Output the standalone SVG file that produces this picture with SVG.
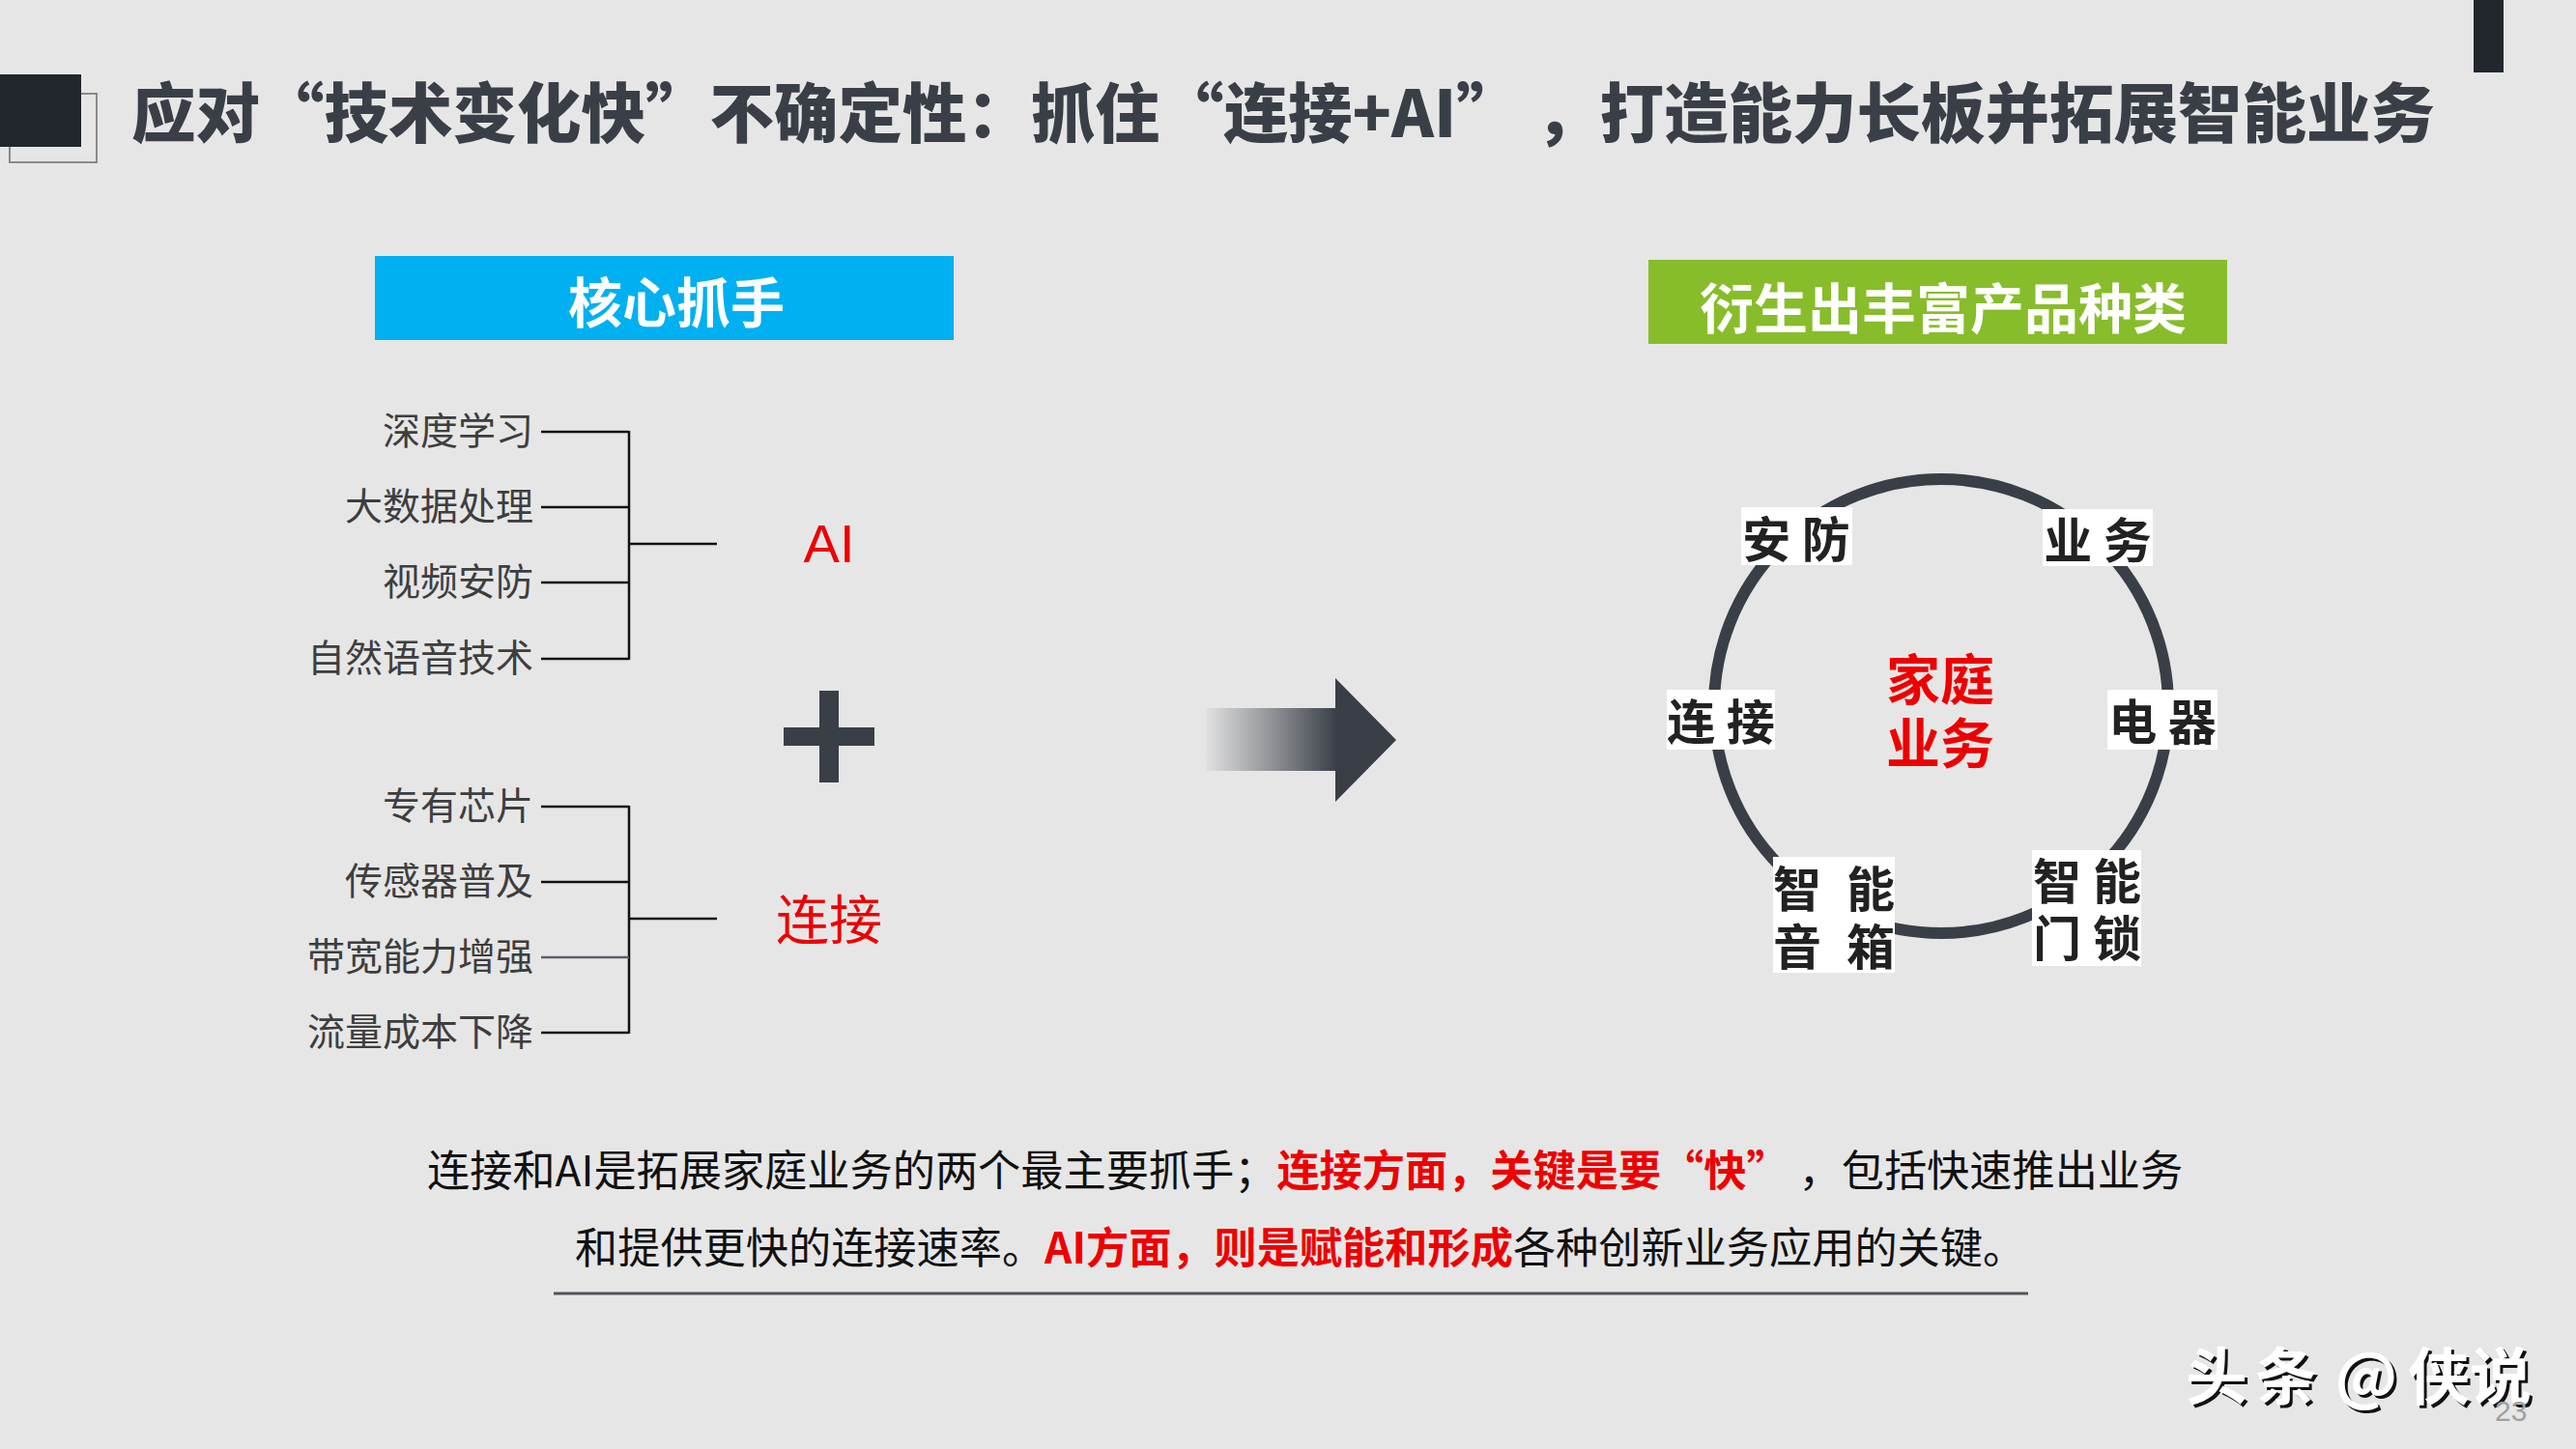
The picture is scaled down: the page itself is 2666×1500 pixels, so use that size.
<svg xmlns="http://www.w3.org/2000/svg" width="2666" height="1500" viewBox="0 0 2666 1500">
<style>
.cjk{font-family:"Noto Sans CJK SC","Noto Sans",sans-serif}
.title{font-size:66.5px;font-weight:900;fill:#3a3f47}
.head{font-size:56px;font-weight:700;fill:#ffffff}
.item{font-size:39px;font-weight:400;fill:#3e3e3e;text-anchor:end}
.lab{font-size:50px;font-weight:700;fill:#222222;text-anchor:middle}
.box{fill:#ffffff}
.body{font-size:44.2px;font-weight:400;fill:#111111}
.rb{font-weight:700;fill:#ee0000}
.ln{stroke:#111111;stroke-width:2.5;fill:none}
.wm{font-size:64px;font-weight:700;text-anchor:middle}
</style>
<defs>
<linearGradient id="shaft" gradientUnits="userSpaceOnUse" x1="1248" y1="0" x2="1384" y2="0">
<stop offset="0" stop-color="#3a3f47" stop-opacity="0.03"/>
<stop offset="0.5" stop-color="#3a3f47" stop-opacity="0.5"/>
<stop offset="1" stop-color="#3a3f47" stop-opacity="1"/>
</linearGradient>
</defs>
<rect x="0" y="0" width="2666" height="1500" fill="#e6e6e6"/>

<g id="title">
<rect x="10" y="97" width="90" height="71" fill="none" stroke="#8a8a8a" stroke-width="2"/>
<rect x="0" y="77" width="84" height="75" fill="#22272e"/>
<rect x="2560" y="0" width="31" height="75" fill="#22272e"/>
<text class="cjk title" x="136" y="142">应对“技术变化快”不确定性：抓住“连接+AI” ，打造能力长板并拓展智能业务</text>
</g>

<g id="head-left">
<rect x="388" y="265" width="599" height="87" fill="#00b0f0"/>
<text class="cjk head" x="700" y="334" text-anchor="middle">核心抓手</text>
</g>
<g id="head-right">
<rect x="1706" y="269" width="599" height="87" fill="#87bd2a"/>
<text class="cjk head" x="2011" y="340" text-anchor="middle">衍生出丰富产品种类</text>
</g>

<g id="ai-items">
<text class="cjk item" x="552" y="460">深度学习</text>
<text class="cjk item" x="552" y="538">大数据处理</text>
<text class="cjk item" x="552" y="616">视频安防</text>
<text class="cjk item" x="552" y="695">自然语音技术</text>
</g>
<g id="ai-node">
<text x="858" y="582" text-anchor="middle" font-family="Liberation Sans, Arial, sans-serif" font-size="56" fill="#ee0000">AI</text>
</g>
<g id="plus">
<rect x="811" y="753" width="94" height="19" fill="#3a3f47"/>
<rect x="848" y="715" width="20" height="95" fill="#3a3f47"/>
</g>
<g id="conn-items">
<text class="cjk item" x="552" y="848">专有芯片</text>
<text class="cjk item" x="552" y="926">传感器普及</text>
<text class="cjk item" x="552" y="1004">带宽能力增强</text>
<text class="cjk item" x="552" y="1082">流量成本下降</text>
</g>
<g id="conn-node">
<text class="cjk" x="858" y="972" text-anchor="middle" font-size="55" fill="#ee0000">连接</text>
</g>

<g id="connectors">
<path class="ln" d="M560 447H651M560 525H651M560 603H651M560 682H651M651 446V683M651 563H742"/>
<path class="ln" d="M560 835H651M560 913H651M560 1069H651M651 834V1070M651 951H742"/>
<path d="M560 991H651" stroke="#5a5f66" stroke-width="2.5"/>
<rect x="1248" y="733" width="136" height="65" fill="url(#shaft)"/>
<polygon points="1382,702 1445,766 1382,830" fill="#3a3f47"/>
</g>

<g id="ring">
<circle cx="2009" cy="731" r="235" fill="none" stroke="#3a3f47" stroke-width="12"/>
</g>
<g id="center">
<text class="cjk" x="2008" y="724" text-anchor="middle" font-size="56" font-weight="700" fill="#ee0000">家庭</text>
<text class="cjk" x="2008" y="790" text-anchor="middle" font-size="56" font-weight="700" fill="#ee0000">业务</text>
</g>
<g id="n-anfang">
<rect class="box" x="1802" y="525" width="115" height="60"/>
<text class="cjk lab" x="1859" y="577" xml:space="preserve">安 防</text>
</g>
<g id="n-yewu">
<rect class="box" x="2114" y="527" width="114" height="59"/>
<text class="cjk lab" x="2171" y="578" xml:space="preserve">业 务</text>
</g>
<g id="n-lianjie">
<rect class="box" x="1725" y="714" width="112" height="62"/>
<text class="cjk lab" x="1781" y="766" xml:space="preserve">连 接</text>
</g>
<g id="n-dianqi">
<rect class="box" x="2181" y="714" width="114" height="62"/>
<text class="cjk lab" x="2238" y="766" xml:space="preserve">电 器</text>
</g>
<g id="n-yinxiang">
<rect class="box" x="1835" y="887" width="126" height="120"/>
<text class="cjk lab" x="1860" y="939">智</text>
<text class="cjk lab" x="1936" y="939">能</text>
<text class="cjk lab" x="1860" y="999">音</text>
<text class="cjk lab" x="1936" y="999">箱</text>
</g>
<g id="n-mensuo">
<rect class="box" x="2103" y="880" width="113" height="120"/>
<text class="cjk lab" x="2129" y="931">智</text>
<text class="cjk lab" x="2191" y="931">能</text>
<text class="cjk lab" x="2129" y="990">门</text>
<text class="cjk lab" x="2191" y="990">锁</text>
</g>

<g id="summary">
<text class="cjk body" x="442" y="1228">连接和AI是拓展家庭业务的两个最主要抓手；<tspan class="rb">连接方面，关键是要“快”</tspan> ，包括快速推出业务</text>
<text class="cjk body" x="595" y="1308">和提供更快的连接速率。<tspan class="rb">AI方面，则是赋能和形成</tspan>各种创新业务应用的关键。</text>
<line x1="573" y1="1339" x2="2099" y2="1339" stroke="#50555c" stroke-width="3"/>
</g>

<g id="footer">
<g class="cjk wm" fill="#111111" transform="translate(3,3)">
<text x="2294" y="1448">头</text><text x="2366" y="1448">条</text><text x="2449" y="1448">@</text><text x="2524" y="1448">侠</text><text x="2588" y="1448">说</text>
</g>
<g class="cjk wm" fill="#ffffff">
<text x="2294" y="1448">头</text><text x="2366" y="1448">条</text><text x="2449" y="1448">@</text><text x="2524" y="1448">侠</text><text x="2588" y="1448">说</text>
</g>
<text x="2582" y="1471" font-family="Liberation Sans, Arial, sans-serif" font-size="30" fill="#a0a0a0">23</text>
</g>
</svg>
